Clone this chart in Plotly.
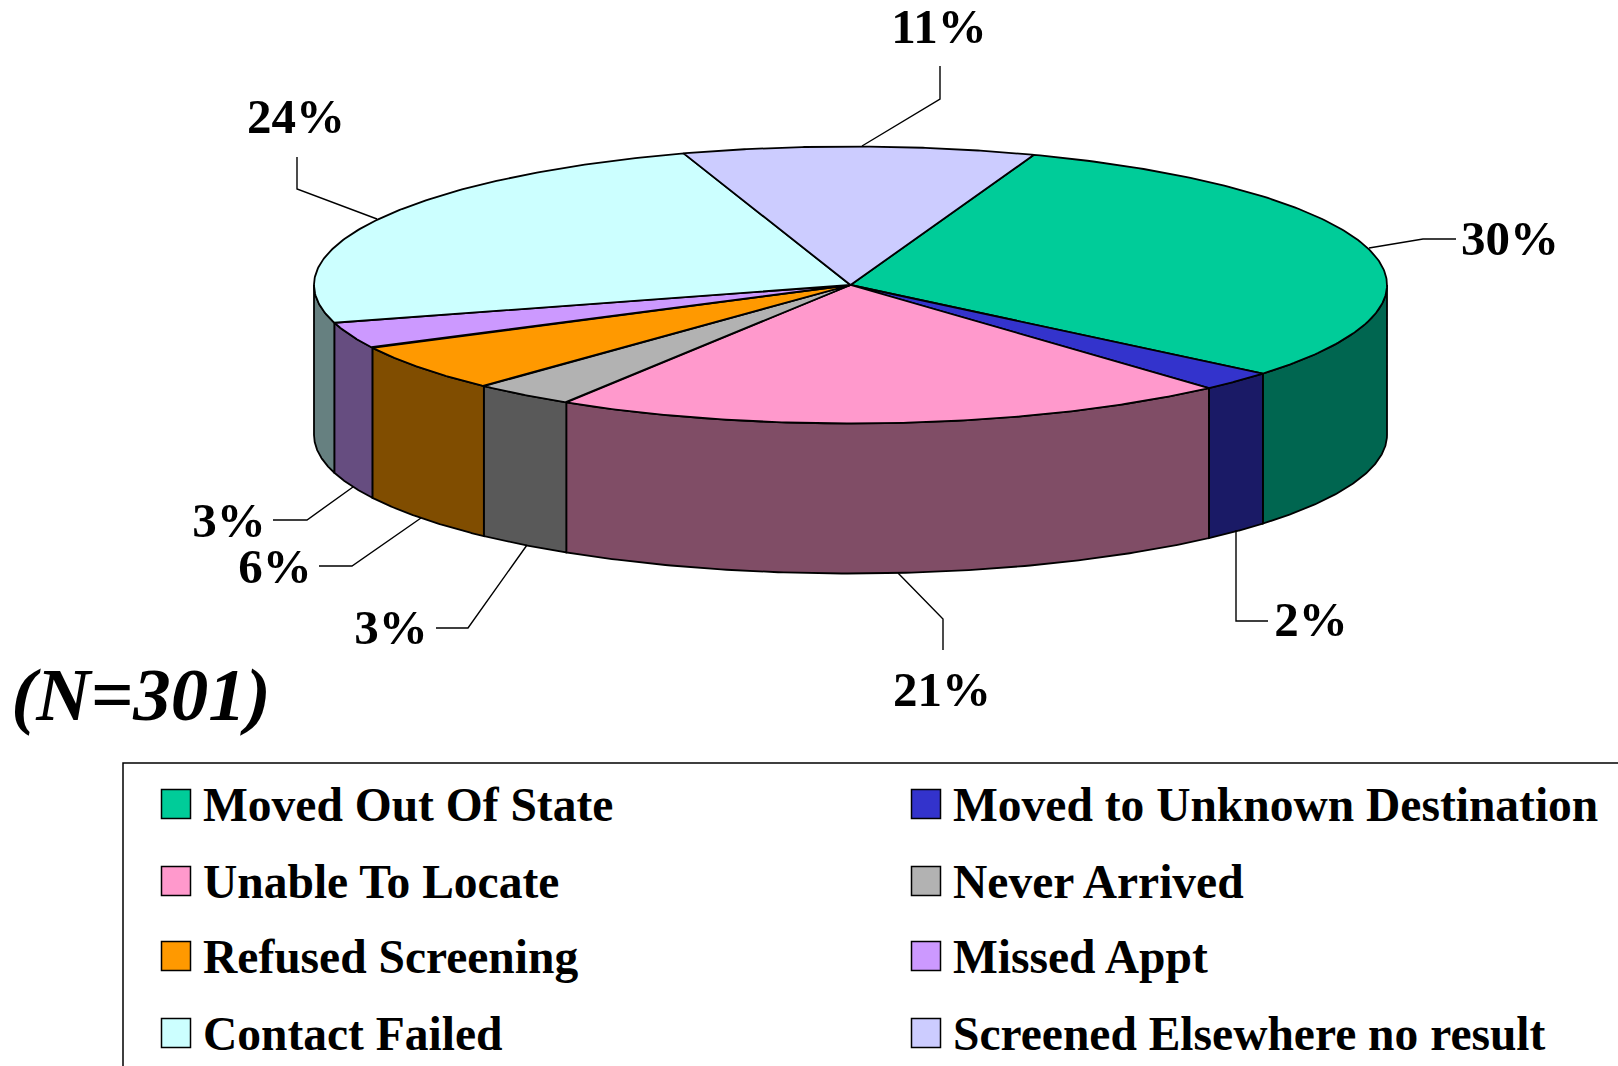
import numpy as np
import plotly.graph_objects as go

# ---- data ----
categories = ["Moved Out Of State", "Moved to Unknown Destination", "Unable To Locate", "Never Arrived",
              "Refused Screening", "Missed Appt", "Contact Failed", "Screened Elsewhere no result"]
shares = [30.49, 2.31, 20.53, 3.09, 5.53, 3.1, 24.36, 10.59]
pct_labels = ["30%", "2%", "21%", "3%", "6%", "3%", "24%", "11%"]
top_colors = ["#00CC99", "#3333CC", "#FF99CC", "#B2B2B2", "#FF9900", "#CC99FF", "#CCFFFF", "#CCCCFF"]
side_colors = ["#006650", "#1A1A66", "#804D66", "#595959", "#804D00", "#664D80", "#668080", "#666680"]
note = "(N=301)"

# ---- layout geometry ----
W, H = 1618, 1066
CX, CY, RX, RY, DEPTH = 850.5, 285, 536.5, 138.5, 150
START = 20.0
label_xy = [(1510, 243), (1311, 624), (942, 694), (391, 632), (275, 571), (229, 525), (296, 121), (939, 31)]
leaders = [
    ([1369, 1423, 1456], [248, 239, 239]),
    ([1236, 1236, 1268], [530, 621, 621]),
    ([898, 943, 943], [573, 619, 650]),
    ([527, 468, 436], [545, 628, 628]),
    ([421, 352, 319], [518, 566, 566]),
    ([353, 307, 273], [487, 520, 520]),
    ([377, 297, 297], [219, 189, 157]),
    ([862, 940, 940], [146, 99, 66]),
]
legend_x = [176, 926]
legend_row_y = [804, 881, 956, 1033]
legend_text_dx = 27
legend_text_dy = 5
FONT = "Liberation Serif"


def ell(deg, dy=0.0):
    a = np.radians(np.asarray(deg, dtype=float))
    return CX + RX * np.sin(a), CY - RY * np.cos(a) + dy


shares_arr = np.array(shares, dtype=float)
edges = START + np.concatenate([[0], np.cumsum(shares_arr)]) / shares_arr.sum() * 360.0

fig = go.Figure()
LINE = dict(color="black", width=1.8)

# side walls (front half of the disc only)
for i, name in enumerate(categories):
    a0, a1 = max(edges[i], 90), min(edges[i + 1], 270)
    if a1 <= a0:
        continue
    t = np.linspace(a0, a1, 120)
    xt, yt = ell(t)
    xb, yb = ell(t[::-1], DEPTH)
    fig.add_trace(go.Scatter(x=np.r_[xt, xb, xt[0]], y=np.r_[yt, yb, yt[0]], mode="lines", fill="toself",
                             fillcolor=side_colors[i], line=LINE, name=name + " side", hoverinfo="skip"))

# top face
for i, name in enumerate(categories):
    t = np.linspace(edges[i], edges[i + 1], 160)
    xt, yt = ell(t)
    fig.add_trace(go.Scatter(x=np.r_[CX, xt, CX], y=np.r_[CY, yt, CY], mode="lines", fill="toself",
                             fillcolor=top_colors[i], line=LINE, name=name, hoverinfo="skip"))

# leader lines
for lx, ly in leaders:
    fig.add_trace(go.Scatter(x=lx, y=ly, mode="lines", line=dict(color="black", width=1.4), hoverinfo="skip"))

# percentage labels
fig.add_trace(go.Scatter(x=[p[0] for p in label_xy], y=[p[1] for p in label_xy], mode="text", text=pct_labels,
                         textposition="middle center", hoverinfo="skip",
                         textfont=dict(family=FONT, size=49, color="black", weight="bold")))

# N note
fig.add_trace(go.Scatter(x=[141], y=[701], mode="text", text=[note], textposition="middle center", hoverinfo="skip",
                         textfont=dict(family=FONT, size=75, color="black", weight="bold", style="italic")))

# legend frame, open to the right and bottom page edges
fig.add_trace(go.Scatter(x=[123, 123, W], y=[H, 763, 763], mode="lines", line=dict(color="black", width=1.5),
                         hoverinfo="skip"))

# legend swatches and texts, read row by row across two columns
for i, name in enumerate(categories):
    col, row = i % 2, i // 2
    fig.add_trace(go.Scatter(x=[legend_x[col]], y=[legend_row_y[row]], mode="markers", hoverinfo="skip",
                             marker=dict(symbol="square", size=29, color=top_colors[i],
                                         line=dict(color="black", width=1.5))))
    fig.add_trace(go.Scatter(x=[legend_x[col] + legend_text_dx], y=[legend_row_y[row] + legend_text_dy],
                             mode="text", text=[name],
                             textposition="middle right", hoverinfo="skip",
                             textfont=dict(family=FONT, size=47.5, color="black", weight="bold")))

fig.update_layout(width=W, height=H, margin=dict(l=0, r=0, t=0, b=0), showlegend=False,
                  paper_bgcolor="white", plot_bgcolor="white",
                  xaxis=dict(range=[0, W], visible=False, fixedrange=True),
                  yaxis=dict(range=[H, 0], visible=False, fixedrange=True))
fig.write_html("out.html", config=dict(displayModeBar=False),
               post_script="document.body.style.margin='0';document.documentElement.style.overflow='hidden';")
